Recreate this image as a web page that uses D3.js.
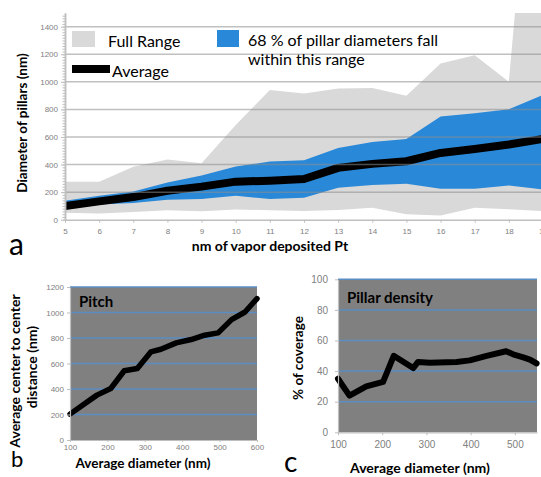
<!DOCTYPE html>
<html>
<head>
<meta charset="utf-8">
<script src="https://cdn.jsdelivr.net/npm/d3@7"></script>
<style>
  body { margin: 0; background: #fff; }
  svg { display: block; font-family: Lato, "Liberation Sans", sans-serif; }
</style>
</head>
<body>
<svg id="fig"></svg>
<script>
// panel a: pillar diameter vs nm of Pt
const nmPt = [5, 6, 7, 8, 9, 10, 11, 12, 13, 14, 15, 16, 17, 18, 19];
const fullMax = [275, 275, 384, 437, 410, 686, 940, 915, 952, 955, 899, 1133, 1193, 1000, 3800];
const fullMin = [50, 45, 55, 69, 62, 74, 69, 63, 70, 87, 39, 31, 87, 75, 63];
const bandMax = [138, 174, 205, 270, 320, 385, 422, 431, 520, 564, 586, 749, 773, 802, 906];
const bandMin = [86, 110, 121, 145, 150, 174, 150, 159, 231, 251, 260, 224, 224, 248, 219];
const avgDiam = [100, 133, 164, 210, 240, 276, 283, 295, 376, 405, 424, 484, 513, 545, 586];
const diamTicks = [0, 200, 400, 600, 800, 1000, 1200, 1400];

// panel b: pitch
const pitchDiam = [100, 140, 172, 209, 245, 280, 316, 343, 384, 424, 460, 496, 532, 568, 600];
const pitchDist = [203, 287, 352, 404, 543, 561, 691, 712, 762, 788, 822, 840, 944, 1004, 1109];
const pitchXTicks = [100, 200, 300, 400, 500, 600];
const pitchYTicks = [0, 200, 400, 600, 800, 1000, 1200];

// panel c: pillar density
const densDiam = [100, 126, 164, 202, 226, 270, 281, 307, 368, 398, 436, 480, 496, 519, 534, 549];
const densCover = [35, 24, 30, 33, 50, 42, 46, 45.5, 46, 47, 50, 53, 51, 49, 47.5, 45];
const densXTicks = [100, 200, 300, 400, 500];
const densYTicks = [0, 20, 40, 60, 80, 100];

const width = 541;
const height = 477;
const fmt = d3.format("d");

const svg = d3.select("#fig")
  .attr("width", width)
  .attr("height", height);

// ---------- panel a ----------
const xA = d3.scaleLinear().domain([5, 19]).range([65, 543]);
const yA = d3.scaleLinear().domain([0, 1500]).range([219.7, 12.9]);

svg.append("clipPath").attr("id", "clipA")
  .append("rect")
  .attr("x", 65).attr("y", 12.9)
  .attr("width", 476).attr("height", 206.8);

const gA = svg.append("g").attr("clip-path", "url(#clipA)");

const rows = nmPt.map((n, i) => ({
  n, fmax: fullMax[i], fmin: fullMin[i], bmax: bandMax[i], bmin: bandMin[i], avg: avgDiam[i]
}));

gA.append("path")
  .datum(rows)
  .attr("fill", "#d9d9d9")
  .attr("d", d3.area().x(d => xA(d.n)).y0(d => yA(d.fmin)).y1(d => yA(d.fmax)));

gA.append("path")
  .datum(rows)
  .attr("fill", "#2a88d8")
  .attr("d", d3.area().x(d => xA(d.n)).y0(d => yA(d.bmin)).y1(d => yA(d.bmax)));

// gridlines sit over the areas
svg.append("g")
  .selectAll("line")
  .data(diamTicks.slice(1))
  .enter()
  .append("line")
  .attr("x1", 65).attr("x2", width)
  .attr("y1", d => yA(d)).attr("y2", d => yA(d))
  .attr("stroke", "#8c8c8c")
  .attr("stroke-opacity", 0.55)
  .attr("stroke-width", 1.5);

gA.append("path")
  .datum(rows)
  .attr("fill", "none")
  .attr("stroke", "#000")
  .attr("stroke-width", 8)
  .attr("stroke-linejoin", "round")
  .attr("d", d3.line().x(d => xA(d.n)).y(d => yA(d.avg)));

const xAxisA = svg.append("g")
  .attr("transform", `translate(0, ${yA(0)})`)
  .call(d3.axisBottom(xA).tickValues(nmPt).tickSize(3).tickSizeOuter(0).tickPadding(6).tickFormat(fmt));

const yMinor = svg.append("g")
  .attr("transform", "translate(65, 0)")
  .call(d3.axisLeft(yA).tickValues(d3.range(0, 1500, 20)).tickSize(2.5).tickSizeOuter(0).tickFormat(""));

const yAxisA = svg.append("g")
  .attr("transform", "translate(65, 0)")
  .call(d3.axisLeft(yA).tickValues(diamTicks).tickSize(4).tickSizeOuter(0).tickPadding(3).tickFormat(fmt));

[xAxisA, yMinor, yAxisA].forEach(g => {
  g.select(".domain").attr("stroke", "#bfbfbf").attr("stroke-width", 1.5);
  g.selectAll(".tick line").attr("stroke", "#bfbfbf");
  g.selectAll("text").attr("fill", "#808080").style("font-size", "8px");
});

svg.append("text")
  .attr("transform", "translate(27, 123) rotate(-90)")
  .attr("text-anchor", "middle")
  .style("font-size", "13.5px").style("font-weight", "bold")
  .text("Diameter of pillars (nm)");

svg.append("text")
  .attr("x", 270).attr("y", 251)
  .attr("text-anchor", "middle")
  .style("font-size", "14px").style("font-weight", "bold")
  .text("nm of vapor deposited Pt");

svg.append("text")
  .attr("x", 9).attr("y", 255)
  .style("font-size", "30px")
  .text("a");

// legend
svg.append("rect").attr("x", 72).attr("y", 31).attr("width", 23).attr("height", 16).attr("fill", "#d9d9d9");
svg.append("text").attr("x", 108).attr("y", 47).style("font-size", "16px").text("Full Range");
svg.append("rect").attr("x", 217).attr("y", 30).attr("width", 22).attr("height", 17).attr("fill", "#2a88d8");
svg.append("text").attr("x", 248).attr("y", 46).style("font-size", "16px").text("68 % of pillar diameters fall");
svg.append("text").attr("x", 248).attr("y", 65).style("font-size", "16px").text("within this range");
svg.append("rect").attr("x", 72).attr("y", 65).attr("width", 38).attr("height", 8).attr("fill", "#000");
svg.append("text").attr("x", 112).attr("y", 77).style("font-size", "16px").text("Average");

// ---------- shared helper for panels b and c ----------
function smallPanel(opts) {
  const x = d3.scaleLinear().domain(opts.xDomain).range(opts.xRange);
  const y = d3.scaleLinear().domain(opts.yDomain).range(opts.yRange);

  svg.append("rect")
    .attr("x", opts.xRange[0]).attr("y", opts.yRange[1])
    .attr("width", opts.xRange[1] - opts.xRange[0])
    .attr("height", opts.yRange[0] - opts.yRange[1])
    .attr("fill", "#808080");

  svg.append("g")
    .selectAll("line")
    .data(opts.yTicks.slice(1))
    .enter()
    .append("line")
    .attr("x1", opts.xRange[0]).attr("x2", opts.xRange[1])
    .attr("y1", d => y(d)).attr("y2", d => y(d))
    .attr("stroke", "#5b8cc2")
    .attr("stroke-width", 1.5);

  svg.append("path")
    .datum(opts.xs.map((v, i) => [v, opts.ys[i]]))
    .attr("fill", "none")
    .attr("stroke", "#000")
    .attr("stroke-width", opts.lineWidth)
    .attr("stroke-linejoin", "round")
    .attr("stroke-linecap", "round")
    .attr("d", d3.line().x(d => x(d[0])).y(d => y(d[1])));

  const xAxis = svg.append("g")
    .attr("transform", `translate(0, ${opts.yRange[0]})`)
    .call(d3.axisBottom(x).tickValues(opts.xTicks).tickSize(opts.tick).tickSizeOuter(0).tickPadding(opts.pad).tickFormat(fmt));

  const yAxis = svg.append("g")
    .attr("transform", `translate(${opts.xRange[0]}, 0)`)
    .call(d3.axisLeft(y).tickValues(opts.yTicks).tickSize(3).tickSizeOuter(0).tickPadding(opts.pad + 1).tickFormat(fmt));

  [xAxis, yAxis].forEach(g => {
    g.select(".domain").attr("stroke", "#bfbfbf").attr("stroke-width", 1.2);
    g.selectAll(".tick line").attr("stroke", "#bfbfbf");
    g.selectAll("text").attr("fill", "#808080").style("font-size", opts.tickFont);
  });

  svg.append("text")
    .attr("x", opts.title[0]).attr("y", opts.title[1])
    .style("font-size", "15px").style("font-weight", "bold")
    .text(opts.title[2]);

  return { x, y };
}

// ---------- panel b ----------
smallPanel({
  xDomain: [100, 600], xRange: [70, 257],
  yDomain: [0, 1200], yRange: [440, 287],
  xTicks: pitchXTicks, yTicks: pitchYTicks,
  xs: pitchDiam, ys: pitchDist,
  lineWidth: 5.5, tickFont: "8px", tick: 2, pad: 2,
  title: [79, 307, "Pitch"]
});

svg.append("text")
  .attr("transform", "translate(20, 371) rotate(-90)")
  .attr("text-anchor", "middle")
  .style("font-size", "14px").style("font-weight", "bold")
  .text("Average center to center");
svg.append("text")
  .attr("transform", "translate(37, 367) rotate(-90)")
  .attr("text-anchor", "middle")
  .style("font-size", "14px").style("font-weight", "bold")
  .text("distance (nm)");

svg.append("text")
  .attr("x", 143).attr("y", 468)
  .attr("text-anchor", "middle")
  .style("font-size", "13.5px").style("font-weight", "bold")
  .text("Average diameter (nm)");

svg.append("text")
  .attr("x", 11).attr("y", 467)
  .style("font-size", "22px")
  .text("b");

// ---------- panel c ----------
smallPanel({
  xDomain: [100, 550], xRange: [338, 537],
  yDomain: [0, 100], yRange: [432.3, 279.3],
  xTicks: densXTicks, yTicks: densYTicks,
  xs: densDiam, ys: densCover,
  lineWidth: 6, tickFont: "10px", tick: 3, pad: 6,
  title: [347, 303, "Pillar density"]
});

svg.append("text")
  .attr("transform", "translate(303, 358) rotate(-90)")
  .attr("text-anchor", "middle")
  .style("font-size", "13.5px").style("font-weight", "bold")
  .text("% of coverage");

svg.append("text")
  .attr("x", 420).attr("y", 473)
  .attr("text-anchor", "middle")
  .style("font-size", "14px").style("font-weight", "bold")
  .text("Average diameter (nm)");

svg.append("text")
  .attr("x", 284).attr("y", 472)
  .style("font-size", "28px")
  .text("c");
</script>
</body>
</html>
